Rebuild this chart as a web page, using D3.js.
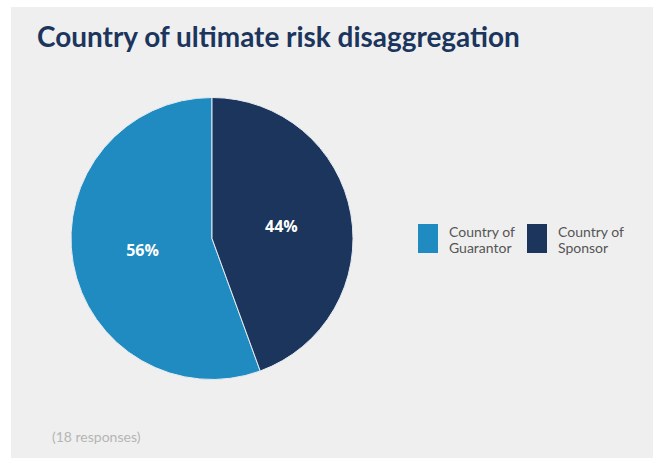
<!DOCTYPE html>
<html>
<head>
<meta charset="utf-8">
<script src="https://cdn.jsdelivr.net/npm/d3@7"></script>
<style>
  html, body { margin: 0; padding: 0; background: #ffffff; }
  svg { display: block; }
</style>
</head>
<body>
<svg id="chart" width="653" height="458"></svg>
<script>
// Survey split: 18 responses
const categories = ["Country of Guarantor", "Country of Sponsor"];
const legendLines = [["Country of", "Guarantor"], ["Country of", "Sponsor"]];
const responses = [10, 8];
const colors = ["#1f8bc0", "#1b355d"];

const svg = d3.select("#chart");

// background panel
svg.append("rect")
  .attr("x", 11).attr("y", 7)
  .attr("width", 653 - 11).attr("height", 458 - 7)
  .attr("fill", "#efefef");

// title, fitted to its width
const title = svg.append("text")
  .attr("x", 37).attr("y", 47)
  .attr("fill", "#1b355d")
  .attr("font-family", "'Source Sans Pro', Lato, 'Open Sans', sans-serif")
  .attr("font-weight", 700)
  .attr("font-size", 27)
  .text("Country of ultimate risk disaggregation");
const tw = title.node().getComputedTextLength();
title.attr("font-size", 27 * 483 / tw);

// pie
const cx = 212, cy = 238.5, radius = 141;
const total = d3.sum(responses);
const pie = d3.pie().sort(null).startAngle(0).endAngle(-2 * Math.PI);
const arcs = pie(responses);
const arc = d3.arc().innerRadius(0).outerRadius(radius);
const labelArc = d3.arc().innerRadius(radius * 0.5).outerRadius(radius * 0.5);

const g = svg.append("g").attr("transform", `translate(${cx},${cy})`);
g.selectAll("path")
  .data(arcs)
  .join("path")
  .attr("d", arc)
  .attr("fill", (d, i) => colors[i])
  .attr("stroke", "#e6ecf2")
  .attr("stroke-width", 1);

const fmt = d3.format(".0%");
g.selectAll("text")
  .data(arcs)
  .join("text")
  .attr("transform", d => {
    const [x, y] = labelArc.centroid(d);
    return `translate(${x},${y})`;
  })
  .attr("text-anchor", "middle")
  .attr("dy", "0.35em")
  .attr("fill", "#ffffff")
  .attr("font-family", "'Open Sans', sans-serif")
  .attr("font-weight", 700)
  .attr("font-size", 16)
  .text(d => fmt(d.value / total));

// legend
const legendX = [418, 527];
const leg = svg.selectAll("g.legend")
  .data(categories)
  .join("g")
  .attr("class", "legend")
  .attr("transform", (d, i) => `translate(${legendX[i]},224)`);
leg.append("rect")
  .attr("width", 20).attr("height", 29)
  .attr("fill", (d, i) => colors[i]);
leg.append("text")
  .attr("x", 31)
  .attr("fill", "#555555")
  .attr("font-family", "'Source Sans Pro', Lato, 'Noto Sans', sans-serif")
  .attr("font-size", 14)
  .selectAll("tspan")
  .data((d, i) => legendLines[i])
  .join("tspan")
  .attr("x", 31)
  .attr("y", (d, j) => 12.5 + j * 16)
  .text(d => d);

// footnote
svg.append("text")
  .attr("x", 52).attr("y", 442)
  .attr("fill", "#b5b5b5")
  .attr("font-family", "'Source Sans Pro', Lato, 'Noto Sans', sans-serif")
  .attr("font-size", 14)
  .text(`(${total} responses)`);
</script>
</body>
</html>
